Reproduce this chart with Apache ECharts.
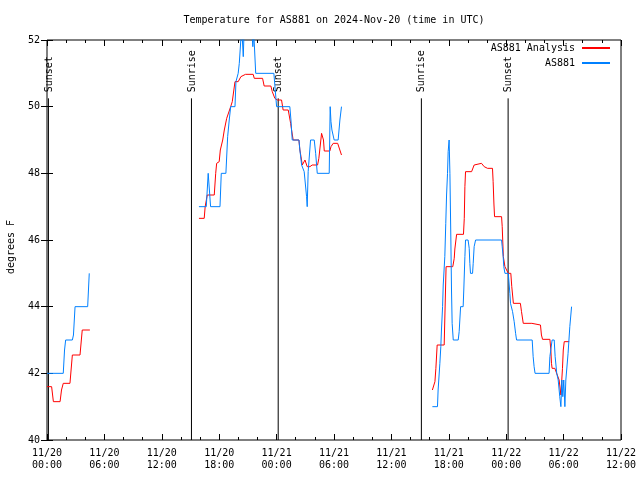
<!DOCTYPE html>
<html><head><meta charset="utf-8">
<script src="https://cdn.jsdelivr.net/npm/echarts@6/dist/echarts.min.js"></script>
<style>html,body{margin:0;padding:0;background:#fff}#c{width:640px;height:480px}</style>
</head><body><div id="c"></div><script>
const FONT = 'DejaVu Sans Mono';
const titleText = 'Temperature for AS881 on 2024-Nov-20 (time in UTC)';
const xTickLabels = ['11/20\n00:00','11/20\n06:00','11/20\n12:00','11/20\n18:00','11/21\n00:00','11/21\n06:00','11/21\n12:00','11/21\n18:00','11/22\n00:00','11/22\n06:00','11/22\n12:00'];
const yTicks = [40,42,44,46,48,50,52];
const sunEvents = ['Sunset','Sunrise','Sunset','Sunrise','Sunset'];
const sunTimes = ['11/20 00:09','11/20 15:06','11/21 00:10','11/21 15:08','11/22 00:12'];

const analysisTimes = [
'11/20 00:00','11/20 00:29','11/20 00:40','11/20 01:22','11/20 01:31','11/20 01:42','11/20 02:24','11/20 02:39','11/20 03:27','11/20 03:41','11/20 04:29',
null,
'11/20 15:53','11/20 16:26','11/20 16:32','11/20 16:45','11/20 17:29','11/20 17:38','11/20 17:44','11/20 18:00','11/20 18:07','11/20 18:22','11/20 18:32','11/20 18:47','11/20 18:57','11/20 19:12','11/20 19:22','11/20 19:39','11/20 19:59','11/20 20:16','11/20 20:45','11/20 21:33','11/20 21:40','11/20 22:32','11/20 22:42','11/20 23:24','11/20 23:33','11/20 23:49',
'11/21 00:04','11/21 00:31','11/21 00:41','11/21 01:13','11/21 01:28','11/21 01:34','11/21 01:44','11/21 02:20','11/21 02:26','11/21 02:33','11/21 02:41','11/21 02:58','11/21 03:12','11/21 03:29','11/21 03:43','11/21 04:17','11/21 04:25','11/21 04:42','11/21 04:49','11/21 04:54','11/21 04:59','11/21 05:34','11/21 05:41','11/21 05:55','11/21 06:23','11/21 06:31','11/21 06:47',
null,
'11/21 16:17','11/21 16:33','11/21 16:39','11/21 16:47','11/21 17:31','11/21 17:43','11/21 18:25','11/21 18:34','11/21 18:38','11/21 18:49','11/21 19:32','11/21 19:37','11/21 19:41','11/21 19:45','11/21 20:23','11/21 20:26','11/21 20:39','11/21 20:48','11/21 21:25','11/21 21:42','11/21 22:03','11/21 22:34','11/21 22:38','11/21 22:43','11/21 22:47','11/21 23:31','11/21 23:35','11/21 23:42','11/21 23:52',
'11/22 00:13','11/22 00:29','11/22 00:35','11/22 00:45','11/22 01:29','11/22 01:36','11/22 01:47','11/22 02:41','11/22 02:47','11/22 03:35','11/22 03:41','11/22 03:48','11/22 04:34','11/22 04:40','11/22 04:44','11/22 04:48','11/22 05:05','11/22 05:17','11/22 05:32','11/22 05:43','11/22 05:53','11/22 05:58','11/22 06:04','11/22 06:35'
];
const analysisTemps = [
41.6,41.6,41.15,41.15,41.5,41.7,41.7,42.55,42.55,43.3,43.3,
null,
46.65,46.65,47.0,47.35,47.35,48.0,48.3,48.35,48.7,49.0,49.3,49.65,49.67,50.0,50.15,50.75,50.75,50.9,50.97,50.97,50.85,50.85,50.62,50.62,50.45,50.25,
50.2,50.2,49.9,49.9,49.5,49.3,49.0,49.0,48.7,48.5,48.25,48.4,48.2,48.2,48.25,48.25,48.45,49.2,49.2,49.0,48.67,48.67,48.8,48.9,48.9,48.85,48.55,
null,
41.5,41.75,42.15,42.85,42.85,45.2,45.2,45.45,45.73,46.17,46.17,46.65,47.6,48.05,48.05,48.02,48.25,48.3,48.3,48.2,48.15,48.15,47.75,47.08,46.7,46.7,46.4,45.5,45.2,
45.0,45.0,44.6,44.1,44.1,43.85,43.5,43.5,43.45,43.45,43.15,43.02,43.02,42.7,42.3,42.15,42.15,42.1,41.8,41.35,42.15,42.7,42.95,42.95
];

const obsTimes = [
'11/20 00:00','11/20 01:42','11/20 01:50','11/20 01:57','11/20 02:39','11/20 02:46','11/20 02:56','11/20 04:15','11/20 04:25','11/20 04:27',
null,
'11/20 15:53','11/20 16:39','11/20 16:51','11/20 16:58','11/20 17:06','11/20 18:05','11/20 18:13','11/20 18:42','11/20 18:53','11/20 19:03','11/20 19:12','11/20 19:39','11/20 19:45','11/20 19:59','11/20 20:06','11/20 20:21','11/20 20:31','11/20 20:37','11/20 21:23','11/20 21:31','11/20 21:37','11/20 21:49','11/20 23:43',
'11/21 00:00','11/21 01:23','11/21 01:30','11/21 01:38','11/21 02:20','11/21 02:26','11/21 02:37','11/21 02:53','11/21 03:08','11/21 03:12','11/21 03:18','11/21 03:33','11/21 03:56','11/21 04:05','11/21 04:15','11/21 05:30','11/21 05:36','11/21 05:41','11/21 05:47','11/21 06:01','11/21 06:26','11/21 06:37','11/21 06:47',
null,
'11/21 16:17','11/21 16:49','11/21 16:53','11/21 17:04','11/21 17:10','11/21 17:14','11/21 17:21','11/21 17:25','11/21 17:35','11/21 17:41','11/21 17:46','11/21 17:52','11/21 17:56','11/21 18:02','11/21 18:07','11/21 18:13','11/21 18:17','11/21 18:21','11/21 18:28','11/21 18:59','11/21 19:05','11/21 19:14','11/21 19:30','11/21 19:34','11/21 19:41','11/21 19:45','11/21 20:01','11/21 20:08','11/21 20:12','11/21 20:16','11/21 20:29','11/21 20:33','11/21 20:39','11/21 20:48','11/21 23:31','11/21 23:35','11/21 23:41','11/21 23:45','11/21 23:52',
'11/22 00:13','11/22 00:23','11/22 00:27','11/22 00:40','11/22 00:50','11/22 00:59','11/22 01:05','11/22 02:43','11/22 02:49','11/22 02:55','11/22 03:01','11/22 04:29','11/22 04:34','11/22 04:48','11/22 05:01','11/22 05:07','11/22 05:17','11/22 05:26','11/22 05:36','11/22 05:43','11/22 05:49','11/22 05:55','11/22 06:01','11/22 06:08','11/22 06:14','11/22 06:28','11/22 06:39','11/22 06:50'
];
const obsTemps = [
42.0,42.0,42.7,43.0,43.0,43.15,44.0,44.0,45.0,45.0,
null,
47.0,47.0,48.0,48.0,47.0,47.0,48.0,48.0,49.1,49.6,50.0,50.0,50.75,51.0,51.3,52.4,51.5,52.4,52.4,51.8,52.2,51.0,51.0,
50.0,50.0,49.6,49.0,49.0,48.7,48.25,48.05,47.3,47.0,48.05,49.0,49.0,48.6,48.0,48.0,50.0,49.55,49.3,49.0,49.0,49.6,50.0,
null,
41.0,41.0,41.5,42.3,42.8,43.3,44.0,44.65,45.5,46.5,47.35,48.0,48.65,49.0,48.0,46.0,44.5,43.5,43.0,43.0,43.25,44.0,44.0,44.5,45.5,46.0,46.0,45.75,45.3,45.0,45.0,45.3,45.8,46.0,46.0,45.8,45.5,45.2,45.0,
45.0,44.4,44.1,43.85,43.55,43.2,43.0,43.0,42.5,42.2,42.0,42.0,42.5,43.0,43.0,42.5,42.0,41.8,41.3,41.0,41.8,41.3,41.8,41.0,41.8,42.6,43.4,44.0
];

function toHours(s){
  const parts = s.split(' ');
  const day = +parts[0].split('/')[1];
  const hm = parts[1].split(':').map(Number);
  return (day - 20) * 24 + hm[0] + hm[1] / 60;
}
function pairs(times, temps){
  let prev = 0;
  return times.map((t, i) => {
    if (t === null) return [prev, null];
    prev = toHours(t);
    return [prev, temps[i]];
  });
}

const tickColor = '#000';
const chart = echarts.init(document.getElementById('c'), null, {renderer: 'canvas'});
const xBase = {
  type: 'value', min: 0, max: 60, interval: 6,
  axisLine: {show: false},
  axisTick: {show: true, inside: true, length: 6, lineStyle: {color: tickColor, width: 1}},
  minorTick: {show: true, splitNumber: 3, length: 3, lineStyle: {color: tickColor, width: 1}},
  splitLine: {show: false}, minorSplitLine: {show: false}
};
const yBase = {
  type: 'value', min: 40, max: 52, interval: 2,
  axisLine: {show: false},
  axisTick: {show: true, inside: true, length: 6, lineStyle: {color: tickColor, width: 1}},
  splitLine: {show: false}
};
chart.setOption({
  animation: false,
  backgroundColor: '#fff',
  grid: {left: 47, right: 19, top: 40, bottom: 40, show: true, borderColor: '#000', borderWidth: 1, backgroundColor: 'transparent'},
  graphic: [
    {type: 'text', x: 334, y: 20, style: {text: titleText, font: '10px ' + FONT, fill: '#000', textAlign: 'center', textVerticalAlign: 'middle'}},
    {type: 'text', x: 11, y: 247, rotation: Math.PI / 2, style: {text: 'degrees F', font: '10px ' + FONT, fill: '#000', textAlign: 'center', textVerticalAlign: 'middle'}}
  ],
  legend: {
    data: ['AS881 Analysis', 'AS881'], orient: 'vertical', right: 25, top: 37, align: 'right',
    itemWidth: 28, itemHeight: 2, itemGap: 3, icon: 'rect',
    textStyle: {fontFamily: FONT, fontSize: 10, color: '#000', lineHeight: 12, padding: [0, 2, 0, 0]}
  },
  xAxis: [
    Object.assign({}, xBase, {position: 'bottom',
      axisLabel: {show: true, formatter: v => xTickLabels[Math.round(v / 6)], fontFamily: FONT, fontSize: 10, color: '#000', lineHeight: 12, margin: 7, showMinLabel: true, showMaxLabel: true}}),
    Object.assign({}, xBase, {position: 'top', axisLabel: {show: false}})
  ],
  yAxis: [
    Object.assign({}, yBase, {position: 'left',
      axisLabel: {show: true, formatter: v => (yTicks.indexOf(v) >= 0 ? String(v) : ''), fontFamily: FONT, fontSize: 10, color: '#000', margin: 7}}),
    Object.assign({}, yBase, {position: 'right', axisLabel: {show: false}})
  ],
  series: [
    {
      type: 'custom', name: 'sun', xAxisIndex: 0, yAxisIndex: 0, silent: true, clip: false, z: 1,
      data: sunTimes.map((t, i) => [toHours(t), i]),
      renderItem: (params, api) => {
        const x = api.value(0);
        const p0 = api.coord([x, 40]);
        const p1 = api.coord([x, 50.25]);
        const name = sunEvents[api.value(1)];
        return {type: 'group', children: [
          {type: 'line', shape: {x1: p0[0], y1: p0[1], x2: p1[0], y2: p1[1]}, style: {stroke: '#000', lineWidth: 1}},
          {type: 'text', x: p1[0] + 0.5, y: p1[1] - 6, rotation: Math.PI / 2,
            style: {text: name, font: '10px ' + FONT, fill: '#000', textAlign: 'left', textVerticalAlign: 'middle'}}
        ]};
      }
    },
    {
      type: 'line', name: 'AS881 Analysis', xAxisIndex: 0, yAxisIndex: 0, symbol: 'none', z: 3,
      data: pairs(analysisTimes, analysisTemps), connectNulls: false,
      lineStyle: {color: '#ff0000', width: 1}, itemStyle: {color: '#ff0000'}
    },
    {
      type: 'line', name: 'AS881', xAxisIndex: 0, yAxisIndex: 0, symbol: 'none', z: 4,
      data: pairs(obsTimes, obsTemps), connectNulls: false,
      lineStyle: {color: '#0080ff', width: 1}, itemStyle: {color: '#0080ff'}
    }
  ]
});
</script></body></html>
